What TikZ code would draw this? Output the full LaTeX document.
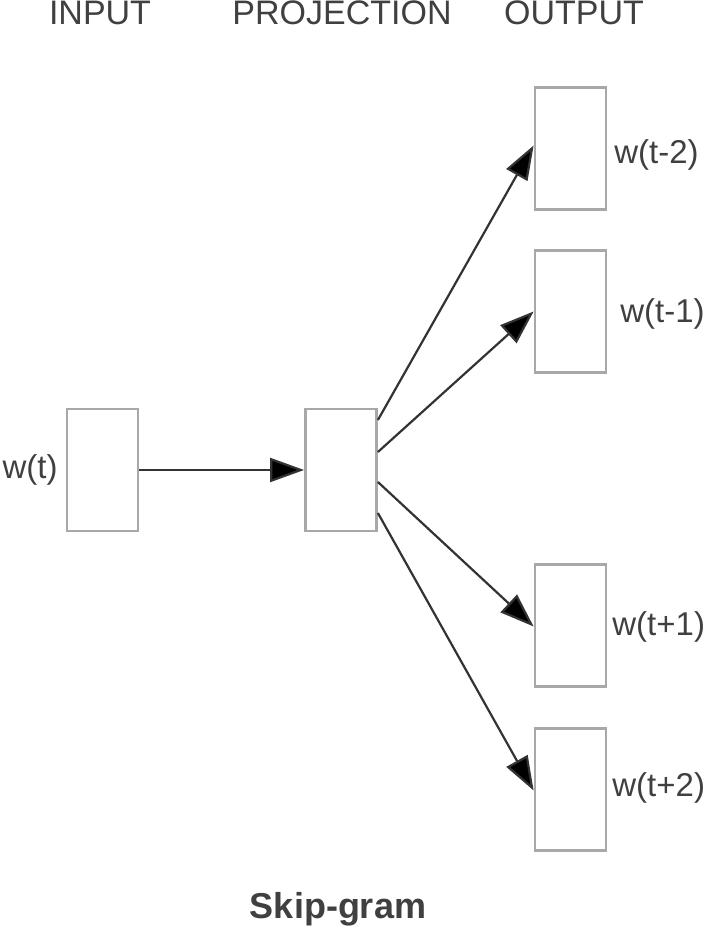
\documentclass[tikz,border=0pt]{standalone}
\usepackage{fontspec}
\setmainfont{Liberation Sans}
\usetikzlibrary{arrows.meta}
\definecolor{boxgray}{HTML}{A8A8A8}
\definecolor{txtgray}{HTML}{404040}
\definecolor{linegray}{HTML}{333333}
\tikzset{
  unit/.style={draw=boxgray, line width=1.4pt, minimum width=35.5pt, minimum height=61pt, inner sep=0pt},
  head/.style={anchor=base, text=txtgray, font=\fontsize{17}{19}\selectfont},
  word/.style={text=txtgray, font=\fontsize{16.5}{18}\selectfont, inner sep=0pt},
  link/.style={draw=linegray, line width=1.1pt, -{Triangle[length=17pt,width=12pt,fill=black]}}
}
\begin{document}
\begin{tikzpicture}[x=0.5pt,y=-0.5pt]
\useasboundingbox (0,0) rectangle (708,930);
% column titles
\node[head] (tin) at (100,25) {INPUT};
\node[head] (tproj) at (342,25) {PROJECTION};
\node[head] (tout) at (574,25) {OUTPUT};

% input and projection layer
\node[unit] (in) at (102.5,470) {};
\node[unit] (proj) at (341,470) {};
\node[word, anchor=east] (win) at (58,470) {w(t)};

% output layer
\node[unit] (om2) at (570.5,148.5) {};
\node[unit] (om1) at (570.5,311.5) {};
\node[unit] (op1) at (570.5,625.5) {};
\node[unit] (op2) at (570.5,789.5) {};
\node[word, anchor=west] (wm2) at (614,155) {w(t-2)};
\node[word, anchor=west] (wm1) at (620,314) {w(t-1)};
\node[word, anchor=west] (wp1) at (612,627) {w(t+1)};
\node[word, anchor=west] (wp2) at (612,788) {w(t+2)};

% connections
\draw[link] (in.east) -- (proj.west);
\draw[link] ([yshift=25pt]proj.east) -- ([yshift=1.5pt]om2.west);
\draw[link] ([yshift=9pt]proj.east) -- (om1.west);
\draw[link] ([yshift=-6pt]proj.east) -- ([yshift=-0.5pt]op1.west);
\draw[link] ([yshift=-21.5pt]proj.east) -- ([yshift=-0.5pt]op2.west);

\node[anchor=base, text=txtgray, font=\fontsize{18}{20}\selectfont\bfseries] (title) at (338,918) {Skip-gram};
\end{tikzpicture}
\end{document}
